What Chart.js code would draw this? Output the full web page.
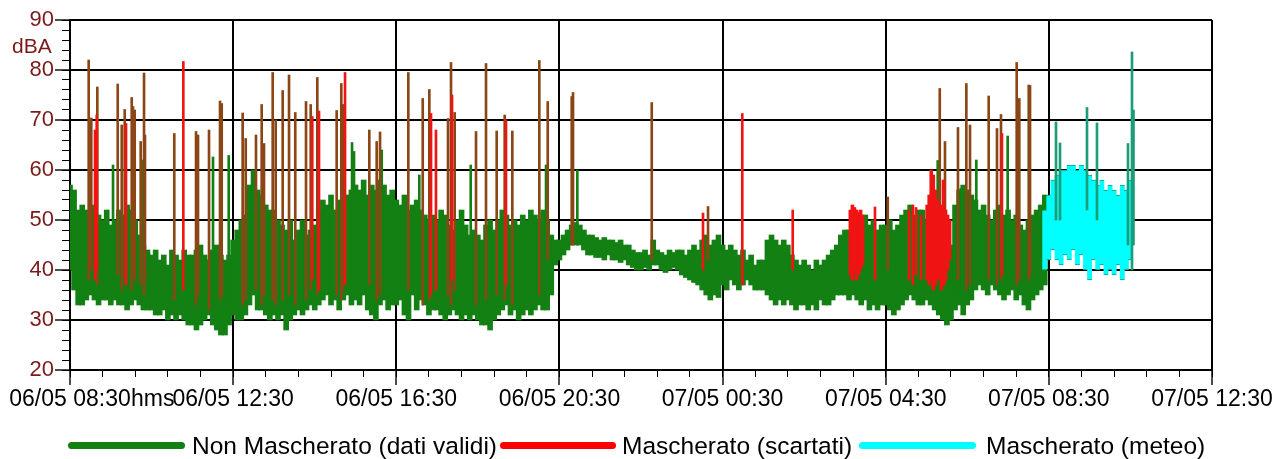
<!DOCTYPE html>
<html>
<head>
<meta charset="utf-8">
<script src="https://cdn.jsdelivr.net/npm/chart.js@4.4.1/dist/chart.umd.min.js"></script>
<style>
  html, body { margin: 0; padding: 0; background: #ffffff; }
  #wrap { position: relative; width: 1277px; height: 459px; font-family: "Liberation Sans", Arial, sans-serif; overflow: hidden; }
  #c { position: absolute; left: 0; top: 0; }
  .txt { position: absolute; white-space: nowrap; line-height: 1; }
  .lg { position: absolute; height: 7px; border-radius: 4px; }
</style>
</head>
<body>
<div id="wrap">
  <canvas id="c" width="1277" height="459"></canvas>
  <div class="txt" id="unitY" style="left:12px; top:35px; font-size:21px; color:#7b1a1a;">dBA</div>
  <div class="txt" id="unitX" style="left:131px; top:387px; font-size:23px; color:#000;">hms</div>
  <div class="lg" style="left:68px; top:442px; width:117px; background:#128012;"></div>
  <div class="txt" style="left:192px; top:434px; font-size:24.5px; color:#000;">Non Mascherato (dati validi)</div>
  <div class="lg" style="left:500px; top:442px; width:116px; background:#ff0000;"></div>
  <div class="txt" style="left:622px; top:434px; font-size:24.5px; color:#000;">Mascherato (scartati)</div>
  <div class="lg" style="left:859px; top:442px; width:117px; background:#00ffff;"></div>
  <div class="txt" style="left:986px; top:434px; font-size:24.5px; color:#000;">Mascherato (meteo)</div>
</div>
<script>
// ---- axis / label data ----
const xTickLabels = ['06/05 08:30', '06/05 12:30', '06/05 16:30', '06/05 20:30', '07/05 00:30', '07/05 04:30', '07/05 08:30', '07/05 12:30'];
const xMin = 0;      // minutes from 06/05 08:30
const xMax = 1680;   // 07/05 12:30
const yMin = 20;
const yMax = 90;

// ---- green band (Non Mascherato), 6-minute bins starting at 06/05 08:30 ----
const greenStart = 0;
const greenStep = 6;
const greenLows = [
  40,36,33,33,34,35,34,33,34,34,
  33,34,33,33,32,33,34,33,32,32,
  32,31,31,32,30,31,30,31,30,29,
  29,28,29,30,31,29,28,27,27,29,
  31,30,30,31,33,35,32,32,31,30,
  31,30,31,28,30,31,32,31,32,33,
  32,33,34,35,33,34,32,34,35,33,
  34,33,35,32,31,30,33,34,32,33,
  33,34,31,30,35,32,34,33,31,32,
  32,31,30,31,32,31,30,31,30,31,
  30,29,29,28,30,31,32,33,31,32,
  30,31,32,31,32,33,32,32,35,41,
  42,43,44,45,45,45,44,43,43,42.5,
  42.5,42,43,42,42,41.5,42,41,40.5,40,
  40,40.5,40,41,41,40,39.5,40,40.5,40,
  39,38.5,38,37.5,37,36,35,34,35,34.5,
  37,36,38,37,36,37,38,37,36,36,
  36,35,34,33,34,33,34,33,32,33,
  33,32,33,32,34,33,33,34,35,35,
  35,34,35,34,33,34,32,33,32,33,
  33,32,31,32,33,34,35,34,33,33,
  34,33,32,31,30,29,30,32,33,31,
  33,34,36,37,36,35,37,36,35,34,
  35,36,34,35,33,32,34,35,36,37
];
const greenHighs = [
  57,56,52,53,52,51,53,51,50,52,
  49,50,52,51,53,52,50,47,45,44,
  43,44,42,43,41,44,43,42,44,43,
  43,44,45,43,42,44,45,43,42,43,
  46,48,50,51,57,60,56,55,53,52,
  52,50,49,48,50,46,48,50,47,48,
  49,52,54,53,55,52,54,53,55,56,
  57,56,58,55,57,56,58,57,55,56,
  54,53,55,52,53,54,52,51,50,51,
  50,52,51,49,48,50,52,49,47,48,
  47,46,49,50,48,50,52,51,49,50,
  49,51,50,52,51,50,52,50,47,46,
  46,47,48,49,49.5,49,48,47,47,46.5,
  46,46.5,46,46,45.5,46,45,45,44,43.5,
  43.5,44,43,46,44,43.5,43,44,43.5,44,
  44,43,44,45,44,46,47,45,46,47,
  45,44,45,44,43,44,42,43,41,42,
  42,46,47,46,45,46,45,43,42,41,
  42,41,40,42,41,42,43,44,45,47,
  48,48,49,48,50,51,49,50,48,49,
  49,50,48,49,51,52,53,51,52,52,
  50,49,48,47,46,44,45,53,56,57,
  56,55,54,52,53,51,50,52,53,51,
  52,50,51,49,48,50,51,52,53,55
];

// ---- isolated green peaks ----
const greenSpikeTimes = [63.3,105.9,210.4,233.5,414.9,417.8,458.6,513.9,589.5,700.3,746.3,1276.5,1310.3,1333.3,1379.4];
const greenSpikeTops  = [61,62,62.6,62.9,65.5,63.7,64,59,61,61,60,61.9,56.3,62,66.8];
const greenSpikeBases = [38,36,33,34,36,35,34,35,36,44,45,37,34,40,38];

// ---- brown peaks (overlap of masked/unmasked) ----
const brownTimes = [27.5,31.3,40.2,70.2,76.1,80.5,90.8,92.7,95.2,104,108.9,110.3,153.4,185.4,188.3,204.5,220.7,223.2,254,258.5,273.6,282,285.4,298.2,302.6,312.9,322.2,331.4,347.2,354.1,363.8,392.3,399.1,401.2,440.3,451.2,456.1,497.7,518.9,528.6,556.1,560.5,565.9,597.3,612,627.7,639.5,650.7,690.4,702.8,738.1,740,855.8,938.6,1203,1279.5,1287.2,1306.3,1318.6,1324,1351.5,1363.7,1369.6,1392.7,1396.5,1410.4,1412.3];
const brownTops  = [82,70.4,76.6,77.2,69,72.1,74.5,72.7,72,65.7,79.4,67,67.3,67.7,67,68,73.8,73.3,71.4,66.3,67,73.1,65.3,79.5,70,75.9,79,71.5,73.7,73.1,78.5,71.9,77.3,73.1,68,65.7,67.6,79.5,74.3,76.1,70.3,81.5,71.5,67.7,81.3,67.8,71,67.8,81.9,73.7,74.7,75.5,73.5,52.7,54.6,76.3,65.7,68.5,77.3,69,74.8,68.3,71.1,81.5,74.3,77,76.9];
const brownBases = [38,40,37,39,36,38,36,40,38,37,35,38,34,33,35,32,34,35,33,34,36,33,35,34,33,34,35,33,34,36,35,35,34,36,37,34,35,36,33,34,35,33,36,33,34,35,34,33,35,42,45,45,42,42,40,38,37,38,36,37,38,37,38,37,38,38,39];

// ---- red (Mascherato scartati) peaks ----
const redTimes = [36.8,39.3,82.4,166.7,356.4,366.3,404.6,531.1,538.4,562,641.4,989,931.2,1063.2,1184.2,1234.3,1240.1,1244.6,1252,1371];
const redTops  = [68,71,69.3,81.7,70.7,71.8,79.5,71.3,68,75,70,71.3,51.4,52,52.6,52,53,52.5,51,67.3];
const redBases = [38,40,37,36,38,36,37,35,36,38,37,37,40,40,38,38,37,39,38,39];

// ---- red masked blocks ----
const redBlockTimes = [1148,1151,1154,1157,1160,1163,1166,1261,1264,1267,1270,1273,1276,1279,1282,1285,1288,1291,1294];
const redBlockHighs = [52,53,52.5,52,51.5,52,51,53,55,60,59,56,54,52,53,58,52,51,50];
const redBlockLows  = [39,38,40,38,39,40,41,38,37,38,36,37,38,39,36,37,38,40,42];

// ---- cyan band (Mascherato meteo), 6-minute bins from 07/05 08:24 ----
const cyanStart = 1434;
const cyanStep = 6;
const cyanLows  = [40,42,44,42,41,43,42,44,41,43,40,38,42,40,41,39,40,39,41,38,40,42];
const cyanHighs = [52,55,58,59,60,60,61,61,60,61,60,59,58,57,58,56,57,56,55,57,56,58];
const cyanSpikeTimes = [1450.5,1456.4,1496.1,1510.8,1556.4,1562.3,1564.5];
const cyanSpikeTops  = [69.6,65.4,72.5,69.4,65.3,83.6,72];
const cyanSpikeBases = [50,50,52,50,45,40,45];

// ---- build library data ----
const binned = (start, step, lows, highs) => lows.map((lo, i) => ({ x: start + step * i, y: [lo, highs[i]] }));
const listed = (times, bases, tops) => times.map((t, i) => ({ x: t, y: [bases[i], tops[i]] }));

const FONT = '"Liberation Sans", Arial, sans-serif';
const C_GREEN = '#128012', C_BROWN = '#8a4614', C_RED = '#f01414', C_CYAN = '#00ffff', C_TEAL = '#1c9c78';

const common = { stack: 'all', grouped: true, borderWidth: 0, borderSkipped: false };

new Chart(document.getElementById('c'), {
  type: 'bar',
  data: {
    datasets: [
      Object.assign({ label: 'Mascherato (meteo) picchi', data: listed(cyanSpikeTimes, cyanSpikeBases, cyanSpikeTops), backgroundColor: C_TEAL, barThickness: 2, order: 0 }, common),
      Object.assign({ label: 'Mascherato (meteo)', data: binned(cyanStart, cyanStep, cyanLows, cyanHighs), backgroundColor: C_CYAN, borderColor: C_TEAL, barThickness: 5, order: 1 }, common, { borderWidth: { top: 1, bottom: 1, left: 0, right: 0 } }),
      Object.assign({ label: 'Mascherato (scartati) picchi', data: listed(redTimes, redBases, redTops), backgroundColor: C_RED, barThickness: 2, order: 2 }, common),
      Object.assign({ label: 'Mascherato (scartati)', data: redBlockTimes.map((t, i) => ({ x: t, y: [redBlockLows[i], redBlockHighs[i]] })), backgroundColor: C_RED, barThickness: 3, order: 3 }, common),
      Object.assign({ label: 'picchi', data: listed(brownTimes, brownBases, brownTops), backgroundColor: C_BROWN, barThickness: 2, order: 4 }, common),
      Object.assign({ label: 'Non Mascherato picchi', data: listed(greenSpikeTimes, greenSpikeBases, greenSpikeTops), backgroundColor: C_GREEN, barThickness: 2, order: 5 }, common),
      Object.assign({ label: 'Non Mascherato (dati validi)', data: binned(greenStart, greenStep, greenLows, greenHighs), backgroundColor: C_GREEN, barThickness: 5, order: 6 }, common)
    ]
  },
  options: {
    responsive: false,
    animation: false,
    devicePixelRatio: 1,
    layout: { padding: { left: 0, right: 65, top: 20, bottom: 0 } },
    plugins: { legend: { display: false }, tooltip: { enabled: false } },
    scales: {
      x: {
        type: 'linear', position: 'bottom', min: xMin, max: xMax, offset: false, weight: 1, z: 1,
        grid: { offset: false, color: '#000', lineWidth: 2, tickLength: 15, tickColor: '#000', tickWidth: 1.4 },
        border: { color: '#000', width: 2 },
        ticks: { stepSize: 240, autoSkip: false, maxRotation: 0, minRotation: 0, padding: 1, color: '#000',
                 font: { family: FONT, size: 23 },
                 callback: (v) => { const k = Math.round((v - xMin) / 240); return (Math.abs(v - k * 240) < 1e-6) ? xTickLabels[k] : ''; } },
        afterFit: (s) => { s.height = 89; }
      },
      x2: {
        type: 'linear', position: 'bottom', min: xMin, max: xMax, offset: false, weight: 0, z: 1,
        grid: { offset: false, drawOnChartArea: false, tickLength: 7, tickColor: '#000', tickWidth: 1, color: '#000' },
        border: { display: false },
        ticks: { stepSize: 48, display: false },
        afterFit: (s) => { s.height = 0; }
      },
      y: {
        type: 'linear', position: 'left', min: yMin, max: yMax, stacked: false, weight: 1, z: 1,
        grid: { color: '#000', lineWidth: 2, tickLength: 15, tickColor: '#000', tickWidth: 1.4 },
        border: { color: '#000', width: 2 },
        ticks: { stepSize: 10, padding: 1, color: '#7b1a1a', font: { family: FONT, size: 22 } },
        afterFit: (s) => { s.width = 70; }
      },
      y2: {
        type: 'linear', position: 'left', min: yMin, max: yMax, stacked: false, weight: 0, z: 1,
        grid: { drawOnChartArea: false, tickLength: 8, tickColor: '#000', tickWidth: 1, color: '#000' },
        border: { display: false },
        ticks: { stepSize: 2, display: false },
        afterFit: (s) => { s.width = 0; }
      }
    }
  }
});
</script>
</body>
</html>
